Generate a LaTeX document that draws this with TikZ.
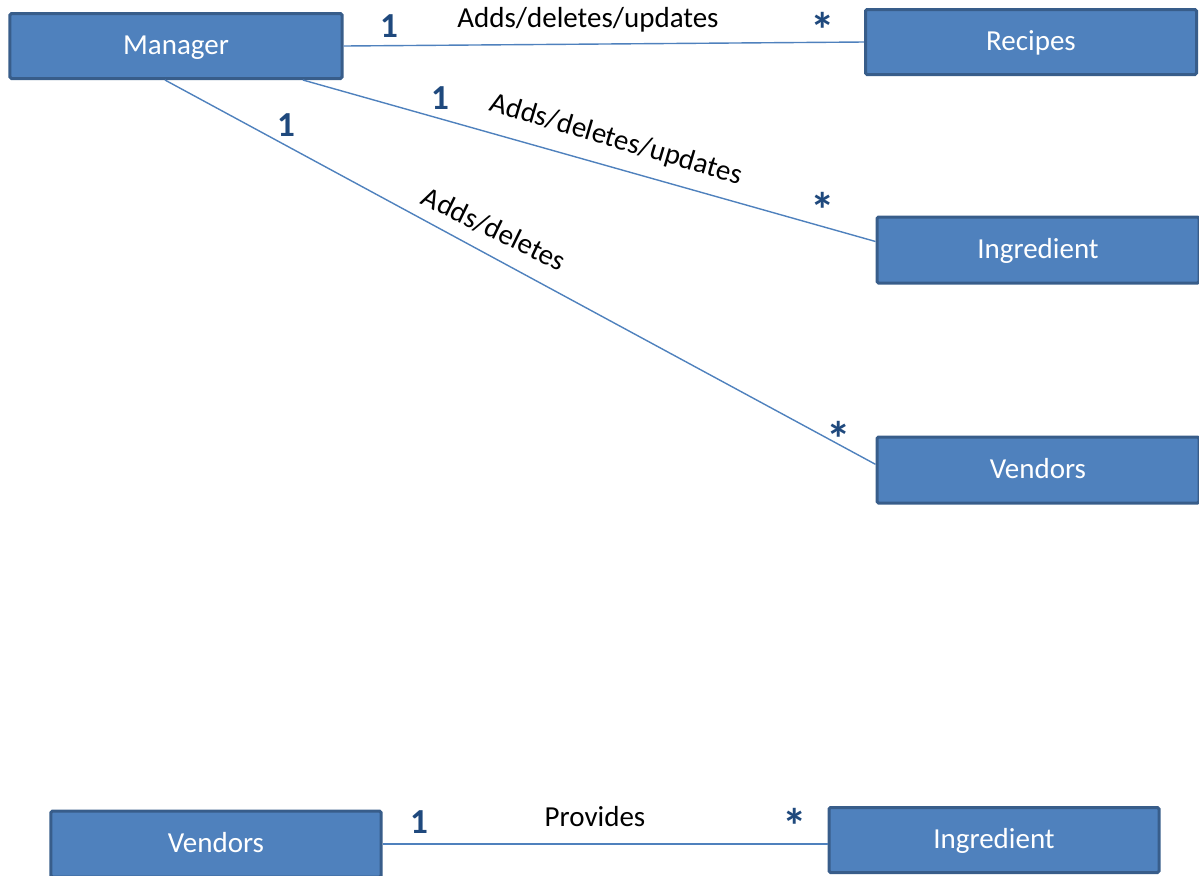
\documentclass[tikz,border=0pt]{standalone}
\usepackage{fontspec}
\setmainfont{Carlito}
\usetikzlibrary{positioning}

\definecolor{boxfill}{HTML}{4F81BD}
\definecolor{boxline}{HTML}{385D8A}
\definecolor{multcol}{HTML}{1F497D}

\tikzset{
    entity/.style={rectangle, draw=boxline, fill=boxfill, line width=0.6mm, rounded corners=0.8pt,
        text=white, font=\fontsize{16.5}{19}\selectfont, inner sep=0pt, text height=10.2pt, text depth=0pt},
    assoc/.style={draw=boxfill, line width=0.28mm},
    mult/.style={font=\fontsize{20}{24}\selectfont\bfseries, text=multcol},
    many/.style={font=\fontsize{28}{30}\selectfont\bfseries, text=multcol, yshift=-1.9mm},
    role/.style={font=\fontsize{16.5}{19}\selectfont}
}

\begin{document}
\begin{tikzpicture}[x=0.2mm, y=-0.2mm]
    \useasboundingbox (0,0) rectangle (1199,875);

    % Classes
    \node[entity, minimum width=6.64cm, minimum height=1.3cm] (mgr) at (176,46) {Manager};
    \node[entity, minimum width=6.62cm, minimum height=1.3cm] (rec) at (1031,42) {Recipes};
    \node[entity, minimum width=6.44cm, minimum height=1.32cm] (ingr) at (1038,250) {Ingredient};
    \node[entity, minimum width=6.44cm, minimum height=1.32cm] (vend) at (1038,470) {Vendors};

    % Second diagram
    \node[entity, minimum width=6.6cm, minimum height=1.32cm] (vend2) at (216,844) {Vendors};
    \node[entity, minimum width=6.6cm, minimum height=1.3cm] (ingr2) at (994,840) {Ingredient};

    % Associations
    \draw[assoc] (mgr.east) -- (rec.west);
    \draw[assoc] (mgr.-15) -- (ingr.177);
    \draw[assoc] (mgr.-108) -- (vend.178);
    \draw[assoc] (vend2.east) -- (ingr2.west |- vend2.east);

    % Multiplicities and roles
    \node[mult] (m1) at (389,26) {1};
    \node[role] (r1) at (588,20) {Adds/deletes/updates};
    \node[many] (s1) at (823,20) {*};

    \node[mult] (m2) at (440,98) {1};
    \node[role, rotate=-16.5] (r2) at (616,140) {Adds/deletes/updates};
    \node[many] (s2) at (823,200) {*};

    \node[mult] (m3) at (286,125) {1};
    \node[role, rotate=-26] (r3) at (494,229) {Adds/deletes};
    \node[many] (s3) at (839,429) {*};

    \node[mult] (m4) at (419,822) {1};
    \node[role] (r4) at (595,817) {Provides};
    \node[many] (s4) at (795,816) {*};
\end{tikzpicture}
\end{document}
